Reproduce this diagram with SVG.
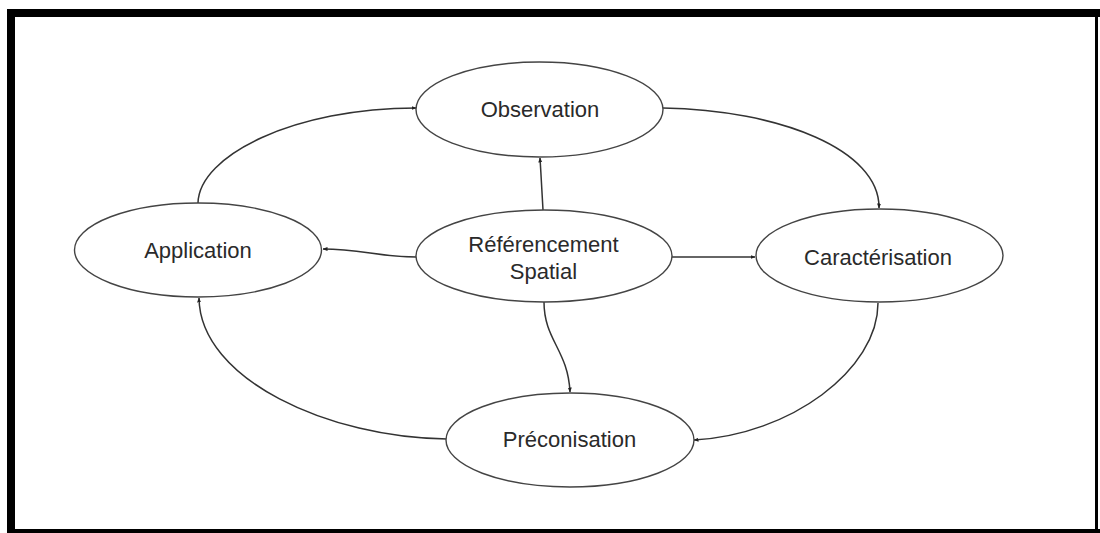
<svg xmlns="http://www.w3.org/2000/svg" width="1100" height="533" viewBox="0 0 1100 533">
<style>
.node ellipse{fill:#fff;stroke:#444;stroke-width:1.4}
.node text{font-family:"Liberation Sans",Arial,sans-serif;font-size:22px;fill:#2a2a2a;text-anchor:middle}
.edge{fill:none;stroke:#333;stroke-width:1.5;marker-end:url(#arr)}
</style>
<defs>
<marker id="arr" viewBox="0 0 10 10" refX="9" refY="5" markerWidth="5" markerHeight="5" orient="auto" markerUnits="userSpaceOnUse">
<path d="M0,1 L10,5 L0,9 z" fill="#222"/>
</marker>
</defs>
<rect width="1100" height="533" fill="#fff"/>
<g id="frame" fill="#000">
<rect x="7" y="9" width="1093" height="8"/>
<rect x="7" y="9" width="8" height="524"/>
<rect x="7" y="529" width="1093" height="4"/>
<rect x="1095" y="9" width="3" height="524"/>
</g>
<g id="connectors">
<path class="edge" d="M198,203 C199,155 295,108 416,108"/>
<path class="edge" d="M663,108 C780,110 880,150 879,208"/>
<path class="edge" d="M878,303 C878,370 790,435 694,440"/>
<path class="edge" d="M447,439 C330,438 200,380 199,298"/>
<path class="edge" d="M543,210 C542,190 541,175 540,158"/>
<path class="edge" d="M416,257 C380,257 360,249 323,249"/>
<path class="edge" d="M672,257 L755,257"/>
<path class="edge" d="M544,302 C544,340 568,350 570,392"/>
</g>
<g id="observation" class="node">
<ellipse cx="539.5" cy="109.5" rx="123.5" ry="47.5"/>
<text x="540" y="117">Observation</text>
</g>
<g id="referencement" class="node">
<ellipse cx="544" cy="256" rx="128" ry="46"/>
<text x="543.5" y="251.5">Référencement</text>
<text x="543.5" y="279">Spatial</text>
</g>
<g id="application" class="node">
<ellipse cx="198" cy="250" rx="123.5" ry="47"/>
<text x="198" y="258">Application</text>
</g>
<g id="caracterisation" class="node">
<ellipse cx="879.5" cy="255.5" rx="123.5" ry="46.5"/>
<text x="878" y="265">Caractérisation</text>
</g>
<g id="preconisation" class="node">
<ellipse cx="570" cy="440" rx="124" ry="47"/>
<text x="569.5" y="447">Préconisation</text>
</g>
</svg>
